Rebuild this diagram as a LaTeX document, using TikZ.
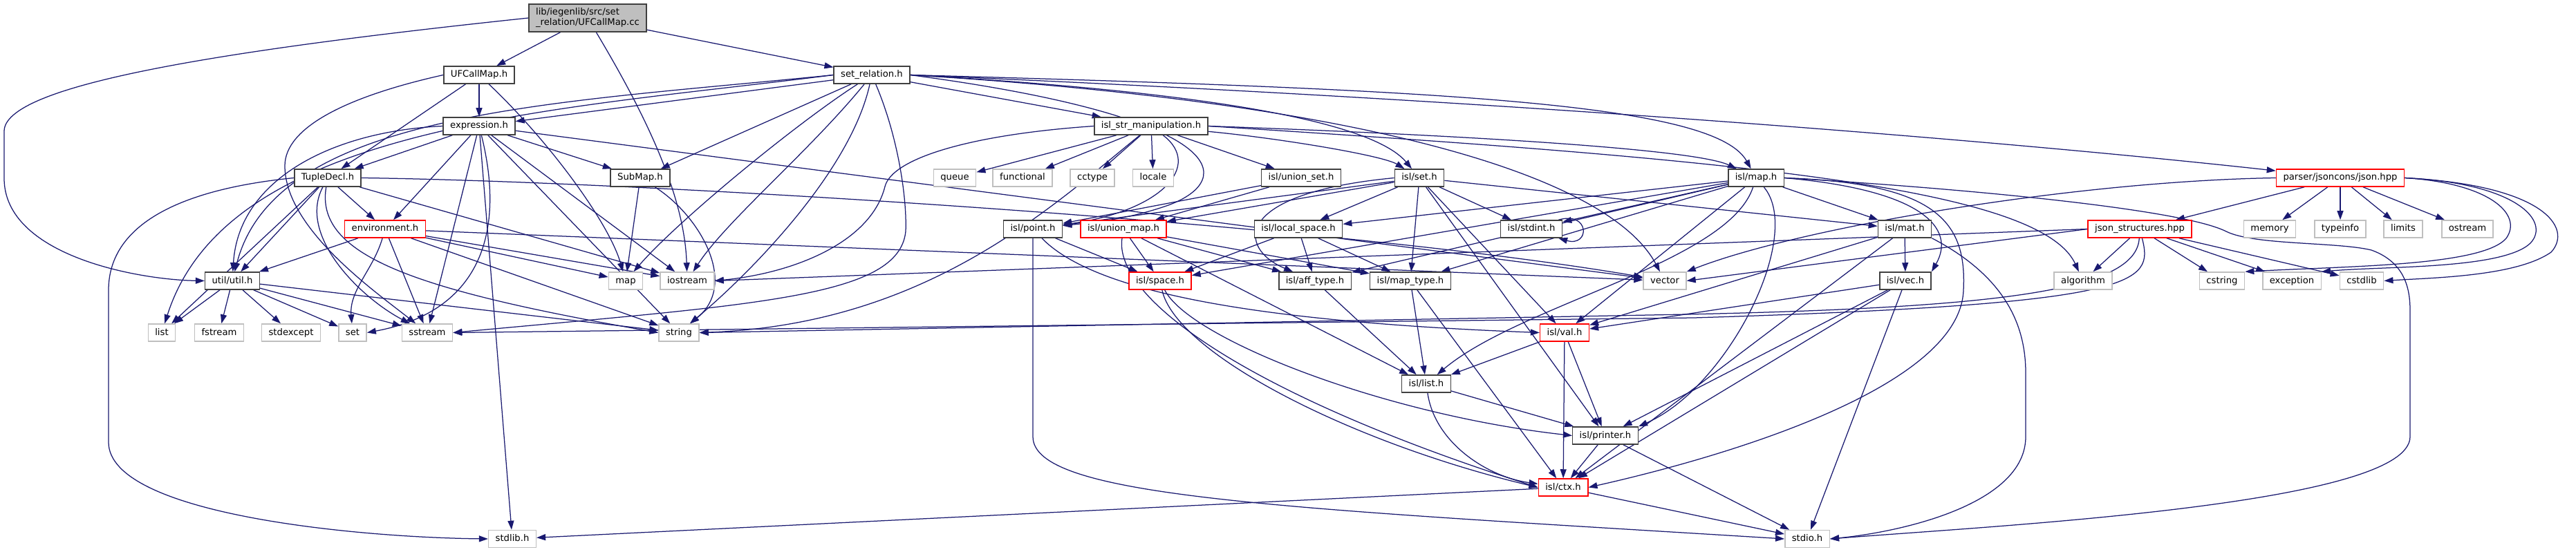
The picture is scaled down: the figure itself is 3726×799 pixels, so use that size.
\documentclass[tikz,border=0pt]{standalone}
\usepackage{fontspec}
\setmainfont{DejaVu Sans}
\usetikzlibrary{arrows.meta}
\definecolor{edgec}{HTML}{191970}
\definecolor{grayb}{HTML}{BFBFBF}
\definecolor{darkb}{HTML}{404040}
\tikzset{
  bx/.style={draw=darkb, line width=1.5pt, fill=white, inner xsep=10pt,
    font=\fontsize{13.2pt}{15pt}\selectfont},
  nd/.style={bx, minimum height=25pt, inner ysep=0pt, text height=10pt, text depth=3pt},
  rd/.style={nd, draw=red},
  sy/.style={nd, draw=grayb},
  ghost/.style={draw=none, fill=none},
  ln/.style={draw=edgec, line width=1.25pt},
  e/.style={ln, -{Triangle[length=13pt,width=9pt]}},
}
% all nodes; #1 = extra options, #2 = wrapper of the text
\newcommand\allnodes[2]{%
\node[nd,#1] (UFh) at (693,108.5) {#2{UFCallMap.h}};
\node[nd,#1] (SR) at (1261,108.5) {#2{set\_relation.h}};
\node[nd,#1] (EX) at (693,182.5) {#2{expression.h}};
\node[nd,#1] (ISM) at (1665,182.5) {#2{isl\_str\_manipulation.h}};
\node[nd,#1] (TD) at (474,257.5) {#2{TupleDecl.h}};
\node[nd,#1] (SM) at (926,257.5) {#2{SubMap.h}};
\node[sy,#1] (queue) at (1381,257.5) {#2{queue}};
\node[sy,#1] (functional) at (1479,257.5) {#2{functional}};
\node[sy,#1] (cctype) at (1580,257.5) {#2{cctype}};
\node[sy,#1] (locale) at (1668,257.5) {#2{locale}};
\node[nd,#1] (US) at (1882,257.5) {#2{isl/union\_set.h}};
\node[nd,#1] (SET) at (2053,257.5) {#2{isl/set.h}};
\node[nd,#1] (MAP) at (2540,257.5) {#2{isl/map.h}};
\node[rd,#1] (JSON) at (3385,257.5) {#2{parser/jsoncons/json.hpp}};
\node[rd,#1] (ENV) at (557,331.5) {#2{environment.h}};
\node[nd,#1] (PT) at (1494,331.5) {#2{isl/point.h}};
\node[rd,#1] (UM) at (1625,331.5) {#2{isl/union\_map.h}};
\node[nd,#1] (LS) at (1878,331.5) {#2{isl/local\_space.h}};
\node[nd,#1] (SI) at (2215,331.5) {#2{isl/stdint.h}};
\node[nd,#1] (MAT) at (2755,331.5) {#2{isl/mat.h}};
\node[rd,#1] (JS) at (3095,331.5) {#2{json\_structures.hpp}};
\node[sy,#1] (memory) at (3283,331.5) {#2{memory}};
\node[sy,#1] (typeinfo) at (3385,331.5) {#2{typeinfo}};
\node[sy,#1] (limits) at (3476,331.5) {#2{limits}};
\node[sy,#1] (ostream) at (3569,331.5) {#2{ostream}};
\node[nd,#1] (UT) at (336,406.5) {#2{util/util.h}};
\node[sy,#1] (mapn) at (905,406.5) {#2{map}};
\node[sy,#1] (iostream) at (994,406.5) {#2{iostream}};
\node[rd,#1] (SP) at (1678,406.5) {#2{isl/space.h}};
\node[nd,#1] (AT) at (1902,406.5) {#2{isl/aff\_type.h}};
\node[nd,#1] (MT) at (2040,406.5) {#2{isl/map\_type.h}};
\node[sy,#1] (vector) at (2408,406.5) {#2{vector}};
\node[nd,#1] (VEC) at (2756,406.5) {#2{isl/vec.h}};
\node[sy,#1] (algorithm) at (3013,406.5) {#2{algorithm}};
\node[sy,#1] (cstring) at (3214,406.5) {#2{cstring}};
\node[sy,#1] (exception) at (3315,406.5) {#2{exception}};
\node[sy,#1] (cstdlib) at (3416,406.5) {#2{cstdlib}};
\node[sy,#1] (list) at (234,481.5) {#2{list}};
\node[sy,#1] (fstream) at (317,481.5) {#2{fstream}};
\node[sy,#1] (stdexcept) at (421,481.5) {#2{stdexcept}};
\node[sy,#1] (setn) at (510,481.5) {#2{set}};
\node[sy,#1] (sstream) at (618,481.5) {#2{sstream}};
\node[sy,#1] (string) at (982,481.5) {#2{string}};
\node[rd,#1] (VAL) at (2263,481.5) {#2{isl/val.h}};
\node[nd,#1] (LIST) at (2063,555.5) {#2{isl/list.h}};
\node[nd,#1] (PR) at (2322,630.5) {#2{isl/printer.h}};
\node[rd,#1] (CTX) at (2261,705.5) {#2{isl/ctx.h}};
\node[sy,#1] (stdlib) at (741,780) {#2{stdlib.h}};
\node[sy,#1] (stdio) at (2614,780) {#2{stdio.h}};
}
\begin{document}
\begin{tikzpicture}[x=1pt,y=-1pt]
\fill[white] (0,0) rectangle (3726,799);
\useasboundingbox (0,0) rectangle (3726,799);
% pass 1: invisible nodes that fix the names and sizes
\node[bx, align=left, inner ysep=4pt, minimum height=40pt, ghost] (cc) at (850,26) {\phantom{lib/iegenlib/src/set}\\\phantom{\_relation/UFCallMap.cc}};
\allnodes{ghost}{\phantom}

% waypoints of the long routed connectors
\coordinate (a1) at (6,190);
\coordinate (a2) at (6,258);
\coordinate (b1) at (157,420);
\coordinate (b2) at (157,640);
\coordinate (c1) at (3486,450);
\coordinate (c2) at (3486,632);
\coordinate (d1) at (1494,632);
\coordinate (f1) at (2930,540);
\coordinate (f2) at (2930,632);

% connectors
\draw[e] (cc.west) .. controls (300,75) and (6,125) .. (a1) -- (a2) .. controls (6,370) and (200,405) .. (UT.west);
\draw[e] (TD.west) .. controls (250,275) and (157,330) .. (b1) -- (b2) .. controls (157,745) and (520,778) .. (stdlib.west);
\draw[e] (MAP.east) .. controls (2800,270) and (3150,300) .. (3220,335) .. controls (3260,355) and (3380,350) .. (3430,362) .. controls (3480,380) and (3486,420) .. (c1) -- (c2) .. controls (3486,730) and (2900,760) .. (stdio.east);
\draw[e] (PT.south) -- (d1) .. controls (1494,720) and (1850,735) .. (stdio.west);
\draw[e] (MAT.south east) .. controls (2900,400) and (2930,470) .. (f1) -- (f2) .. controls (2930,730) and (2750,770) .. (stdio.east);
% cc
\draw[e] (cc) -- (UFh);
\draw[e] (cc) -- (SR);
\draw[e] (cc) .. controls (930,160) and (990,280) .. (iostream);
% UFCallMap.h
\draw[e] (UFh) -- (EX);
\draw[e] (UFh) -- (TD);
\draw[e] (UFh) .. controls (790,200) and (880,320) .. (mapn);
\draw[e] (UFh.west) .. controls (500,140) and (412,185) .. (412,240) .. controls (412,330) and (540,420) .. (sstream);
% set_relation.h
\draw[e] (SR) -- (EX);
\draw[e] (SR) -- (SM);
\draw[e] (SR) .. controls (1150,180) and (980,320) .. (mapn);
\draw[e] (SR) .. controls (1170,220) and (1050,320) .. (iostream);
\draw[e] (SR.west) .. controls (800,150) and (400,160) .. (UT);
\draw[e] (SR.west) .. controls (800,160) and (330,180) .. (list);
\draw[e] (SR) -- (ISM);
\draw[e] (SR.east) .. controls (1700,130) and (1980,170) .. (SET);
\draw[e] (SR.east) .. controls (2100,130) and (2480,150) .. (MAP);
\draw[e] (SR.east) .. controls (2300,150) and (3000,215) .. (JSON);
\draw[e] (SR.east) .. controls (2000,150) and (2330,260) .. (vector);
\draw[e] (SR.east) .. controls (1780,170) and (1790,260) .. (1690,297) .. controls (1630,318) and (1580,322) .. (PT);
\draw[e] (SR) .. controls (1300,200) and (1312,290) .. (1310,335) .. controls (1300,430) and (1100,440) .. (sstream.east);
\draw[e] (SR) .. controls (1230,250) and (1080,400) .. (string);
% expression.h
\draw[e] (EX) -- (TD);
\draw[e] (EX) -- (SM);
\draw[e] (EX) -- (ENV);
\draw[e] (EX.west) .. controls (480,190) and (345,260) .. (UT);
\draw[e] (EX) -- (stdlib);
\draw[e] (EX) -- (string);
\draw[e] (EX) -- (iostream);
\draw[e] (EX) -- (vector);
\draw[e] (EX) -- (sstream);
\draw[e] (EX) .. controls (730,330) and (700,450) .. (setn.east);
% TupleDecl.h
\draw[e] (TD) -- (UT);
\draw[e] (TD) -- (list);
\draw[e] (TD) -- (ENV);
\draw[e] (TD) .. controls (455,370) and (600,420) .. (string.west);
\draw[e] (TD) -- (iostream);
\draw[e] (TD.east) .. controls (900,262) and (1900,320) .. (vector);
\draw[e] (TD) .. controls (430,340) and (520,430) .. (sstream);
% environment.h
\draw[e] (ENV) -- (UT);
\draw[e] (ENV) .. controls (540,390) and (505,420) .. (setn);
\draw[e] (ENV) -- (sstream);
\draw[e] (ENV) -- (string);
\draw[e] (ENV) -- (mapn);
\draw[e] (ENV) -- (iostream);
\draw[e] (ENV) -- (vector);
% SubMap.h
\draw[e] (SM) -- (mapn);
\draw[e] (SM) .. controls (1010,310) and (1070,410) .. (string);
% util.h
\draw[e] (UT) -- (list);
\draw[e] (UT) -- (fstream);
\draw[e] (UT) -- (stdexcept);
\draw[e] (UT) -- (setn);
\draw[e] (UT) -- (sstream);
\draw[e] (UT) -- (string);
% isl_str_manipulation.h
\draw[e] (ISM) -- (queue);
\draw[e] (ISM) -- (functional);
\draw[e] (ISM) -- (cctype);
\draw[e] (ISM) -- (locale);
\draw[e] (ISM) -- (US);
\draw[e] (ISM) .. controls (1850,200) and (2000,225) .. (SET);
\draw[e] (ISM.east) .. controls (2100,195) and (2450,215) .. (MAP);
\draw[e] (ISM.east) .. controls (2500,230) and (2950,270) .. (algorithm);
\draw[e] (ISM) .. controls (1740,240) and (1680,305) .. (PT);
\draw[e] (ISM.west) .. controls (1400,195) and (1290,230) .. (1280,270) .. controls (1260,350) and (1150,395) .. (iostream.east);
\draw[e] (ISM) .. controls (1520,300) and (1340,470) .. (string.east);
% union_set
\draw[e] (US) -- (PT);
\draw[e] (US) -- (UM);
% set.h
\draw[e] (SET) -- (PT);
\draw[e] (SET) -- (UM);
\draw[e] (SET) -- (LS);
\draw[e] (SET) -- (MT);
\draw[e] (SET.west) .. controls (1780,280) and (1790,360) .. (AT);
\draw[e] (SET) -- (VAL);
\draw[e] (SET) -- (SI);
\draw[e] (SET) -- (MAT);
\draw[e] (SET) -- (PR);
% map.h
\draw[e] (MAP) -- (SI);
\draw[e] (MAP) -- (SP);
\draw[e] (MAP.east) .. controls (2780,275) and (2830,330) .. (VEC.north east);
\draw[e] (MAP) -- (MAT);
\draw[e] (MAP) -- (LS);
\draw[e] (MAP) -- (AT);
\draw[e] (MAP) -- (MT);
\draw[e] (MAP) .. controls (2500,380) and (2200,440) .. (LIST);
\draw[e] (MAP) -- (VAL);
\draw[e] (MAP) .. controls (2610,340) and (2500,560) .. (PR.north east);
\draw[e] (MAP.east) .. controls (2800,265) and (2845,320) .. (2840,420) .. controls (2835,560) and (2500,660) .. (CTX.east);
% point.h
\draw[e] (PT) -- (SP);
\draw[e] (PT) .. controls (1580,420) and (1800,465) .. (VAL.west);
% union_map.h
\draw[e] (UM) -- (SP);
\draw[e] (UM) .. controls (1610,430) and (1800,570) .. (CTX.west);
\draw[e] (UM) -- (LIST);
\draw[e] (UM) -- (AT);
\draw[e] (UM) -- (MT);
% local_space.h
\draw[e] (LS) -- (SP);
\draw[e] (LS) -- (AT);
\draw[e] (LS) -- (MT);
% stdint self loop
\draw[e] ([xshift=-6pt]SI.north east) .. controls (2300,305) and (2300,358) .. ([xshift=-6pt]SI.south east);
% mat.h
\draw[e] (MAT) -- (VEC);
\draw[e] (MAT) -- (CTX);
\draw[e] (MAT) -- (VAL);
% vec.h
\draw[e] (VEC) -- (stdio);
\draw[e] (VEC) -- (CTX);
\draw[e] (VEC) -- (PR);
\draw[e] (VEC) -- (VAL);
% space.h
\draw[e] (SP) .. controls (1700,510) and (1950,640) .. (CTX.west);
\draw[e] (SP) .. controls (1720,490) and (2000,600) .. (PR.west);
% types, val, list, printer, ctx
\draw[e] (AT) -- (LIST);
\draw[e] (MT) -- (LIST);
\draw[e] (MT) -- (CTX);
\draw[e] (VAL) -- (LIST);
\draw[e] (VAL) -- (PR);
\draw[e] (VAL) -- (CTX);
\draw[e] (LIST) -- (PR);
\draw[e] (LIST) .. controls (2075,640) and (2150,690) .. (CTX);
\draw[e] (PR) -- (CTX);
\draw[e] (PR) -- (stdio);
\draw[e] (CTX) -- (stdio);
\draw[e] (CTX) -- (stdlib);
% json.hpp
\draw[e] (JSON) -- (JS);
\draw[e] (JSON) -- (memory);
\draw[e] (JSON) -- (typeinfo);
\draw[e] (JSON) -- (limits);
\draw[e] (JSON) -- (ostream);
\draw[e] (JSON.east) .. controls (3600,265) and (3650,310) .. (3625,345) .. controls (3590,385) and (3400,385) .. (cstring.north east);
\draw[e] (JSON.east) .. controls (3640,265) and (3690,320) .. (3660,352) .. controls (3620,390) and (3450,385) .. (exception.north east);
\draw[e] (JSON.east) .. controls (3680,268) and (3722,330) .. (3690,365) .. controls (3640,400) and (3520,402) .. (cstdlib.east);
\draw[e] (JSON.west) .. controls (3000,262) and (2600,330) .. (vector.north east);
% json_structures.hpp
\draw[e] (JS) -- (cstring);
\draw[e] (JS) -- (exception);
\draw[e] (JS) -- (cstdlib);
\draw[e] (JS) -- (algorithm);
\draw[e] (JS.west) -- (vector.east);
\draw[e] (JS.west) -- (iostream.east);
\draw[e] (JS) .. controls (3090,420) and (2900,445) .. (2440,455) -- (string.east);
\draw[e] (JS) .. controls (3115,410) and (3100,440) .. (2450,460) -- (sstream.east);

% pass 2: the visible nodes, on top of the connectors
\node[bx, fill=grayb, align=left, inner ysep=4pt, minimum height=40pt] (cc) at (850,26) {lib/iegenlib/src/set\\\_relation/UFCallMap.cc};
\allnodes{}{\mbox}
\end{tikzpicture}
\end{document}
